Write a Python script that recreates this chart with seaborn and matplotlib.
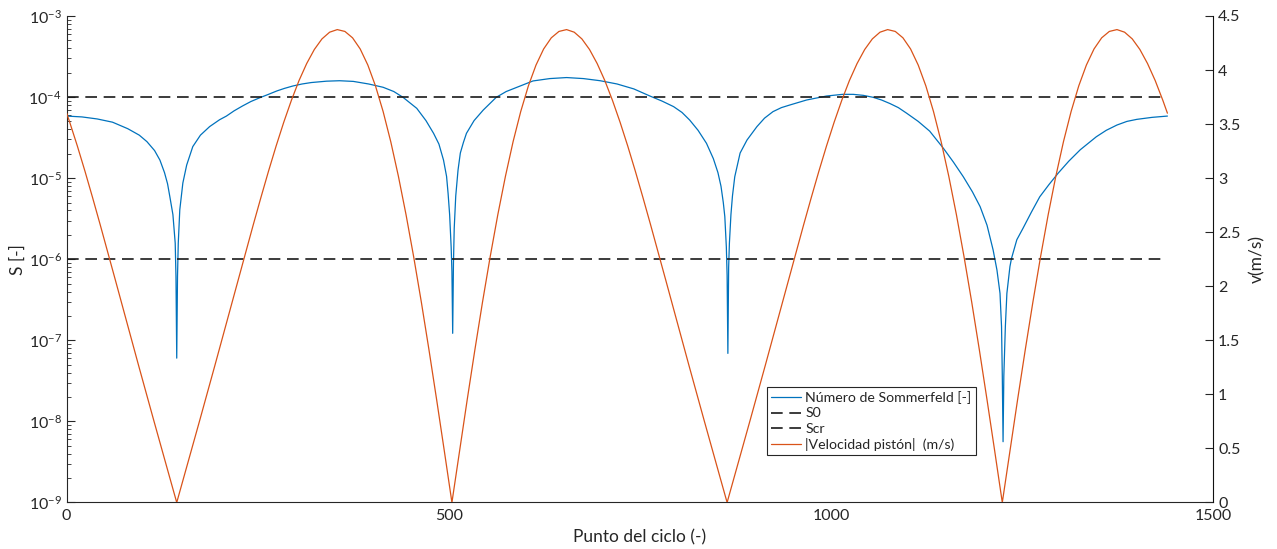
import matplotlib
matplotlib.use("Agg")
import matplotlib.pyplot as plt
import matplotlib.ticker as mticker
import seaborn as sns
import pandas as pd

# Sommerfeld number along the cycle (log-scale values)
punto_s = [0, 20, 40, 60, 80, 95, 105, 115, 122, 128, 132, 135, 139, 142, 143, 144, 145, 146,
           148, 152, 157, 165, 175, 187, 200, 209, 219, 230, 241, 253, 264, 275, 285, 296,
           308, 320, 340, 357, 375, 395, 414, 428, 440, 458, 470, 480, 487, 493, 497, 499,
           501, 503, 504, 505, 506, 507, 509, 512, 515, 519, 523, 533, 545, 562, 575, 589,
           610, 632, 654, 676, 698, 720, 742, 763, 779, 794, 805, 815, 826, 837, 846, 852,
           856, 859, 861, 863, 864, 865, 866, 867, 869, 871, 874, 881, 890, 903, 913, 924,
           935, 946, 968, 994, 1015, 1029, 1042, 1055, 1066, 1077, 1088, 1099, 1114, 1129,
           1147, 1160, 1173, 1185, 1195, 1204, 1212, 1217, 1221, 1223, 1224, 1225, 1226,
           1228, 1230, 1234, 1236, 1243, 1251, 1262, 1273, 1285, 1297, 1311, 1326, 1347,
           1360, 1374, 1387, 1400, 1420, 1440]
sommerfeld = [5.83e-5, 5.69e-5, 5.37e-5, 4.90e-5, 4.07e-5, 3.39e-5, 2.82e-5, 2.19e-5, 1.67e-5,
              1.17e-5, 8.51e-6, 5.90e-6, 3.55e-6, 1.58e-6, 6.10e-7, 6.03e-8, 6.10e-7, 1.58e-6,
              4.07e-6, 8.71e-6, 1.45e-5, 2.45e-5, 3.39e-5, 4.32e-5, 5.25e-5, 5.83e-5, 6.76e-5,
              7.76e-5, 8.81e-5, 9.84e-5, 1.08e-4, 1.19e-4, 1.28e-4, 1.37e-4, 1.45e-4, 1.51e-4,
              1.57e-4, 1.59e-4, 1.56e-4, 1.45e-4, 1.32e-4, 1.17e-4, 9.93e-5, 7.26e-5, 5.13e-5,
              3.57e-5, 2.63e-5, 1.67e-5, 1.05e-5, 6.46e-6, 3.55e-6, 1.41e-6, 7.08e-7, 1.22e-7,
              8.91e-7, 2.40e-6, 6.03e-6, 1.26e-5, 2.04e-5, 2.75e-5, 3.57e-5, 5.13e-5, 6.92e-5,
              9.93e-5, 1.17e-4, 1.32e-4, 1.58e-4, 1.69e-4, 1.74e-4, 1.69e-4, 1.59e-4, 1.45e-4,
              1.26e-4, 1.03e-4, 8.91e-5, 7.62e-5, 6.46e-5, 5.21e-5, 3.89e-5, 2.69e-5, 1.74e-5,
              1.17e-5, 7.94e-6, 5.01e-6, 3.35e-6, 1.41e-6, 6.31e-7, 6.90e-8, 7.94e-7, 1.58e-6,
              3.55e-6, 6.03e-6, 1.04e-5, 2.04e-5, 2.95e-5, 4.32e-5, 5.50e-5, 6.61e-5, 7.41e-5,
              7.98e-5, 9.20e-5, 1.03e-4, 1.08e-4, 1.08e-4, 1.05e-4, 9.93e-5, 9.20e-5, 8.32e-5,
              7.41e-5, 6.31e-5, 5.01e-5, 3.80e-5, 2.33e-5, 1.58e-5, 1.04e-5, 6.76e-6, 4.45e-6,
              2.63e-6, 1.30e-6, 7.36e-7, 3.80e-7, 1.48e-7, 3.63e-8, 5.62e-9, 3.63e-8, 1.48e-7,
              3.80e-7, 8.13e-7, 1.02e-6, 1.74e-6, 2.40e-6, 3.80e-6, 5.89e-6, 8.32e-6, 1.15e-5,
              1.62e-5, 2.24e-5, 3.24e-5, 3.89e-5, 4.52e-5, 5.01e-5, 5.31e-5, 5.62e-5, 5.83e-5]

# Reference Sommerfeld limits
s0 = 1e-4
scr = 1e-6
limite_x = [0, 1440]

# Absolute piston speed (m/s), sampled every 10 points of the cycle
punto_v = [0] + list(range(4, 1435, 10)) + [1440]
velocidad = [3.601,
             # 4 .. 144
             3.517, 3.297, 3.063, 2.818, 2.566, 2.309, 2.050, 1.789, 1.529, 1.270, 1.013,
             0.758, 0.504, 0.252, 0.0,
             # 154 .. 504
             0.252, 0.504, 0.758, 1.013, 1.270, 1.529, 1.789, 2.050, 2.309, 2.566, 2.818,
             3.063, 3.297, 3.517, 3.720, 3.903, 4.060, 4.190, 4.288, 4.350, 4.374, 4.357,
             4.298, 4.195, 4.046, 3.853, 3.616, 3.337, 3.017, 2.661, 2.271, 1.853, 1.411,
             0.951, 0.479, 0.0,
             # 514 .. 864
             0.479, 0.951, 1.411, 1.853, 2.271, 2.661, 3.017, 3.337, 3.616, 3.853, 4.046,
             4.195, 4.298, 4.357, 4.374, 4.350, 4.288, 4.190, 4.060, 3.903, 3.720, 3.517,
             3.297, 3.063, 2.818, 2.566, 2.309, 2.050, 1.789, 1.529, 1.270, 1.013, 0.758,
             0.504, 0.252, 0.0,
             # 874 .. 1224
             0.252, 0.504, 0.758, 1.013, 1.270, 1.529, 1.789, 2.050, 2.309, 2.566, 2.818,
             3.063, 3.297, 3.517, 3.720, 3.903, 4.060, 4.190, 4.288, 4.350, 4.374, 4.357,
             4.298, 4.195, 4.046, 3.853, 3.616, 3.337, 3.017, 2.661, 2.271, 1.853, 1.411,
             0.951, 0.479, 0.0,
             # 1234 .. 1434
             0.479, 0.951, 1.411, 1.853, 2.271, 2.661, 3.017, 3.337, 3.616, 3.853, 4.046,
             4.195, 4.298, 4.357, 4.374, 4.350, 4.288, 4.190, 4.060, 3.903, 3.720,
             3.601]

x_ticks = [0, 500, 1000, 1500]
v_ticks = [0, 0.5, 1, 1.5, 2, 2.5, 3, 3.5, 4, 4.5]

AZUL = "#0072BD"
NARANJA = "#D95319"
GRIS = "#262626"

sns.set_style("white")
plt.rcParams["font.family"] = ["Lato", "DejaVu Sans"]
plt.rcParams["mathtext.fontset"] = "custom"
plt.rcParams["mathtext.rm"] = "Lato"
plt.rcParams["mathtext.it"] = "Lato:italic"
plt.rcParams["mathtext.bf"] = "Lato:bold"

fig = plt.figure(figsize=(12.77, 5.49), dpi=100)
ax = fig.add_axes([0.0522, 0.0847, 0.8979, 0.8862])
ax2 = ax.twinx()

df_s = pd.DataFrame({"punto": punto_s, "S": sommerfeld})
df_v = pd.DataFrame({"punto": punto_v, "v": velocidad})

sns.lineplot(data=df_s, x="punto", y="S", ax=ax, color=AZUL, linewidth=0.9,
             estimator=None, sort=False, label="Número de Sommerfeld [-]", legend=False)
sns.lineplot(x=limite_x, y=[s0, s0], ax=ax, color="#1a1a1a", linewidth=1.2,
             linestyle=(0, (7, 4)), estimator=None, label="S0", legend=False)
sns.lineplot(x=limite_x, y=[scr, scr], ax=ax, color="#1a1a1a", linewidth=1.2,
             linestyle=(0, (7, 4)), estimator=None, label="Scr", legend=False)
sns.lineplot(data=df_v, x="punto", y="v", ax=ax2, color=NARANJA, linewidth=0.9,
             estimator=None, sort=False, label="|Velocidad pistón|  (m/s)", legend=False)

ax.set_yscale("log")
ax.set_ylim(1e-9, 1e-3)
ax.set_xlim(0, 1500)
ax2.set_ylim(0, 4.5)

ax.set_xticks(x_ticks)
ax.xaxis.set_major_formatter(mticker.FormatStrFormatter("%d"))
ax.yaxis.set_major_locator(mticker.LogLocator(base=10, numticks=10))
ax.yaxis.set_minor_locator(mticker.LogLocator(base=10, subs=range(2, 10), numticks=20))
ax.yaxis.set_minor_formatter(mticker.NullFormatter())
ax2.set_yticks(v_ticks)
ax2.yaxis.set_major_formatter(mticker.FormatStrFormatter("%g"))

for a in (ax, ax2):
    a.spines["top"].set_visible(False)
    a.tick_params(direction="in", colors=GRIS, labelsize=11.5, length=6, width=0.8)
    a.tick_params(which="minor", direction="in", length=3, width=0.6, colors=GRIS)
ax.spines["right"].set_visible(False)
ax.spines["left"].set_color(GRIS)
ax.spines["bottom"].set_color(GRIS)
ax2.spines["left"].set_visible(False)
ax2.spines["bottom"].set_visible(False)
ax2.spines["right"].set_color("#111111")
ax.tick_params(axis="x", pad=5)

ax.set_xlabel("Punto del ciclo (-)", fontsize=12.5, color=GRIS, labelpad=4)
ax.set_ylabel("S [-]", fontsize=12.5, color=GRIS, labelpad=2)
ax2.set_xlabel("")
ax2.xaxis.set_visible(False)
ax2.set_ylabel("v(m/s)", fontsize=12.5, color=GRIS, labelpad=6)

h1, l1 = ax.get_legend_handles_labels()
h2, l2 = ax2.get_legend_handles_labels()
leg = ax2.legend(h1 + h2, l1 + l2, loc="upper left", bbox_to_anchor=(0.611, 0.237),
                 fontsize=10.2, frameon=True, fancybox=False, framealpha=1,
                 edgecolor=GRIS, borderpad=0.3, labelspacing=0.22, handlelength=2.1,
                 handletextpad=0.3, borderaxespad=0)
leg.get_frame().set_linewidth(0.8)

fig.savefig("out.png", dpi=100)
